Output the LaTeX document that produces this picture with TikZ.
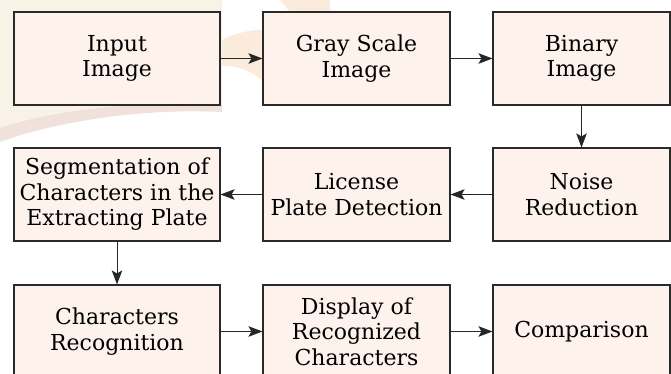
\documentclass[tikz,border=0pt]{standalone}
\usepackage{fontspec}
\setmainfont{DejaVu Serif}
\usetikzlibrary{arrows.meta}
\definecolor{boxfill}{HTML}{FDF2EC}
\definecolor{boxline}{HTML}{2A2A2A}
\definecolor{wmcream}{HTML}{F8F3E6}
\definecolor{wmedge}{HTML}{F0E2DA}
\definecolor{wmorange}{HTML}{FBEBDD}
\begin{document}
\begin{tikzpicture}[x=1pt,y=-1pt,
  stagebox/.style={draw=boxline, fill=boxfill, line width=1.1pt, align=center,
    inner sep=0pt, font=\fontsize{22}{25.5}\selectfont},
  flow/.style={line width=1pt, draw=black!85, -{Stealth[length=14pt,width=10.5pt,inset=3pt]}}]
\useasboundingbox (0,0) rectangle (671,374);
% faint watermark
\fill[wmcream] (0,0) -- (222,0) -- (222,112) .. controls (150,108) and (60,118) .. (0,140) -- cycle;
\fill[wmedge] (0,128) .. controls (60,108) and (150,100) .. (222,105) -- (222,112) .. controls (150,108) and (60,120) .. (0,142) -- cycle;
\fill[wmorange] (222,40) .. controls (240,30) and (262,28) .. (290,30) -- (262,80) .. controls (250,70) and (235,65) .. (222,66) -- cycle;
\fill[wmorange] (280,0) -- (330,0) -- (330,12) -- (290,12) -- cycle;
% nodes
\node[stagebox, minimum width=206pt, minimum height=93pt] (in) at (117,58.5) {Input\\Image};
\node[stagebox, minimum width=187pt, minimum height=93pt] (gray) at (356.5,58.5) {Gray Scale\\Image};
\node[stagebox, minimum width=177pt, minimum height=93pt] (bin) at (581.5,58.5) {Binary\\Image};
\node[stagebox, minimum width=177pt, minimum height=93pt] (noise) at (581.5,194.5) {Noise\\Reduction};
\node[stagebox, minimum width=187pt, minimum height=93pt] (lpd) at (356.5,194.5) {License\\Plate Detection};
\node[stagebox, minimum width=206pt, minimum height=93pt] (seg) at (117,194.5) {Segmentation of\\Characters in the\\Extracting Plate};
\node[stagebox, minimum width=206pt, minimum height=93pt] (rec) at (117,331.5) {Characters\\Recognition};
\node[stagebox, minimum width=187pt, minimum height=93pt] (disp) at (356.5,331.5) {Display of\\Recognized\\Characters};
\node[stagebox, minimum width=177pt, minimum height=93pt] (comp) at (581.5,331.5) {Comparison};
% connectors
\draw[flow] (in) -- (gray);
\draw[flow] (gray) -- (bin);
\draw[flow] (bin) -- (noise);
\draw[flow] (noise) -- (lpd);
\draw[flow] (lpd) -- (seg);
\draw[flow] (seg) -- (rec);
\draw[flow] (rec) -- (disp);
\draw[flow] (disp) -- (comp);
\end{tikzpicture}
\end{document}
